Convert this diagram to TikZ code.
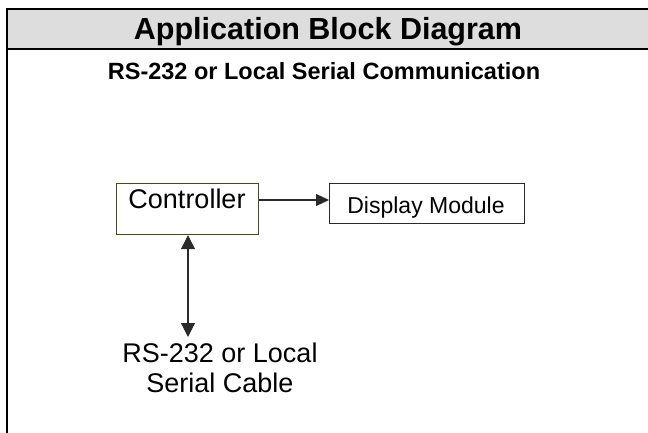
\documentclass[tikz,border=0pt]{standalone}
\usepackage{fontspec}
\setmainfont{Liberation Sans}
\usetikzlibrary{arrows.meta}
\definecolor{bandgray}{HTML}{DDDDDD}
\definecolor{olivedark}{HTML}{4A4A1E}
\definecolor{linegray}{HTML}{2A2A2A}
\tikzset{
  block/.style={draw, inner sep=0pt, anchor=north west},
  flow/.style={draw=linegray, line width=1.2pt, -{Triangle[length=13pt,width=12pt]}},
}
\begin{document}
\begin{tikzpicture}[x=1pt, y=-1pt]
  \useasboundingbox (0,0) rectangle (648,433);
  % header band
  \fill[bandgray] (7,9) rectangle (648,49);
  \draw[line width=2.5pt] (7,9) -- (648,9);
  \draw[line width=2.5pt] (7,49) -- (648,49);
  \draw[line width=2.5pt] (7,8) -- (7,433);
  \node[font=\fontsize{30.5}{33}\selectfont\bfseries, anchor=base] (title) at (328,40) {Application Block Diagram};
  \node[font=\fontsize{23.5}{27}\selectfont\bfseries, anchor=base] (subtitle) at (324,80) {RS-232 or Local Serial Communication};
  % blocks
  \node[block, draw=olivedark, line width=1.2pt, minimum width=142pt, minimum height=51pt] (ctrl) at (116,183) {};
  \node[font=\fontsize{27}{31}\selectfont, anchor=base] (ctrltext) at (187,208) {Controller};
  \node[block, draw=linegray, line width=1.2pt, minimum width=195pt, minimum height=40pt] (disp) at (329,183) {};
  \node[font=\fontsize{23}{27}\selectfont, anchor=base] (disptext) at (426,213) {Display Module};
  \node[font=\fontsize{27}{30}\selectfont, align=center, anchor=base] (cable) at (220,392)
    {RS-232 or Local\\ Serial Cable};
  \coordinate (cabletop) at (188,337);
  % connectors
  \draw[flow] (ctrl.east |- 0,200) -- (disp.west |- 0,200);
  \draw[flow, {Triangle[length=14pt,width=14pt]}-{Triangle[length=14pt,width=14pt]}] (ctrl.south -| cabletop) -- (cabletop);
\end{tikzpicture}
\end{document}
